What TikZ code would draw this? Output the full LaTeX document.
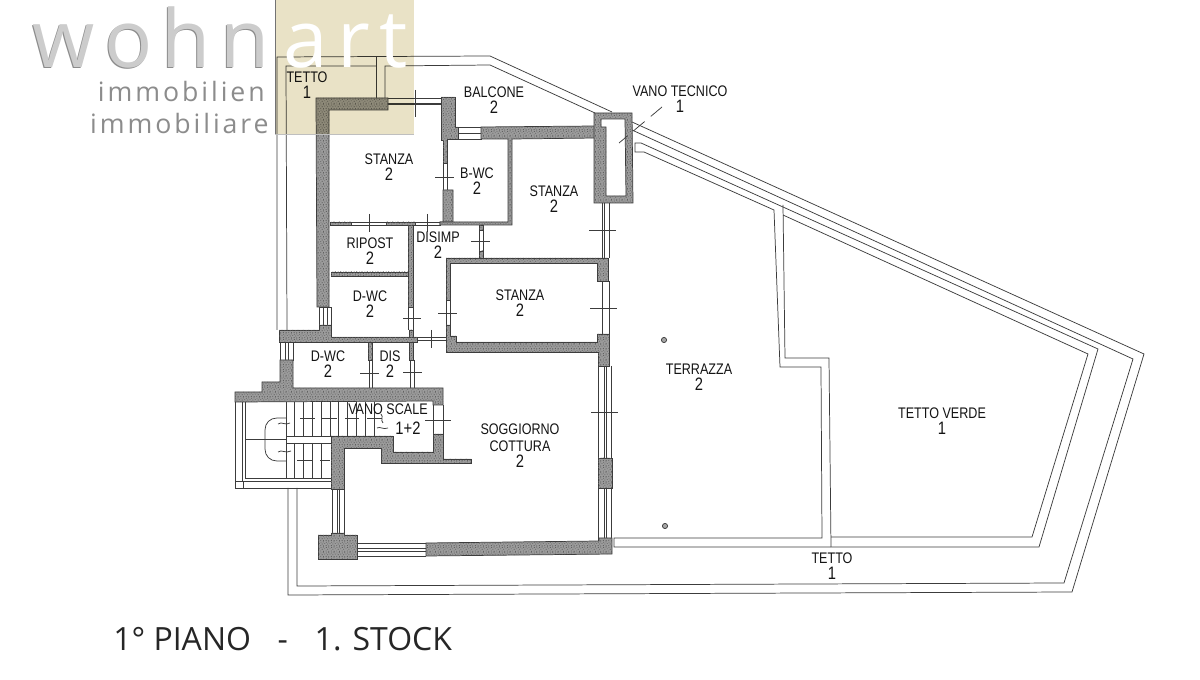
\documentclass[tikz,border=0pt]{standalone}
\usepackage{fontspec}
\usetikzlibrary{patterns}
\setmainfont{Liberation Sans}
\newfontfamily\planfont[FakeStretch=0.82]{Liberation Sans}
\newfontfamily\logofont[LetterSpace=12]{Open Sans}
\newfontfamily\artfont[LetterSpace=12]{Open Sans}
\newfontfamily\subfont[LetterSpace=11]{Open Sans}
\newfontfamily\capfont{Open Sans}
\newcommand{\dg}{\fontsize{13.5}{12.4}\selectfont}
\definecolor{wallgray}{HTML}{9C9C9C}
\definecolor{ink}{HTML}{3C3C3C}
\definecolor{logotan}{HTML}{E9E2C6}
\pgfdeclarepatternformonly{speckle}{\pgfqpoint{-0.1pt}{-0.1pt}}{\pgfqpoint{4.1pt}{4.1pt}}{\pgfqpoint{4pt}{4pt}}{%
 \pgfpathrectangle{\pgfqpoint{0.2pt}{0.4pt}}{\pgfqpoint{0.7pt}{0.7pt}}%
 \pgfpathrectangle{\pgfqpoint{2.3pt}{0.1pt}}{\pgfqpoint{0.6pt}{0.8pt}}%
 \pgfpathrectangle{\pgfqpoint{1.3pt}{1.7pt}}{\pgfqpoint{0.8pt}{0.6pt}}%
 \pgfpathrectangle{\pgfqpoint{3.2pt}{2.1pt}}{\pgfqpoint{0.6pt}{0.6pt}}%
 \pgfpathrectangle{\pgfqpoint{0.4pt}{3.0pt}}{\pgfqpoint{0.7pt}{0.6pt}}%
 \pgfpathrectangle{\pgfqpoint{2.2pt}{3.2pt}}{\pgfqpoint{0.6pt}{0.7pt}}%
 \pgfusepath{fill}}
\tikzset{
 plan/.style={draw=ink,line width=0.55pt,line join=miter},
 wallfill/.style={fill=wallgray,draw=ink,line width=0.55pt,postaction={pattern=speckle,pattern color=black!62}},
 lab/.style={font=\planfont\fontsize{11.5}{12.4}\selectfont,align=center,inner sep=0pt,text=black!92},
}
\begin{document}
\begin{tikzpicture}[x=0.75pt,y=-0.75pt]
\useasboundingbox (0,0) rectangle (1200,680);
\fill[white] (0,0) rectangle (1200,680);
% ---- outer roof lines
\draw[plan] (277,330)--(277,57)--(490,56)--(612,112);
\draw[plan] (632,122)--(1144,354)--(1072,592)--(288,595)--(288,488);
\draw[plan] (287,330)--(286,66)--(376,66);
\draw[plan] (376,57)--(376,98);
\draw[plan] (385,98)--(385,66)--(490,65)--(595,113);
\draw[plan] (632,130)--(1133,359)--(1064,583)--(297,586)--(297,488);
% ---- terrace
\draw[plan] (1098,349)--(1039,547)--(614,547)--(614,538)--(822,538)--(821,367)--(780,367)--(774,210)--(644,152)--(635,152)--(635,143)--(641,143)--cycle;
\draw[plan] (783,205)--(785,358)--(829,358)--(831,547);
\draw[plan] (783,215)--(1088,354)--(1032,537)--(831,537);
\draw[plan,fill=black!35] (664,340) circle (2.6);
\draw[plan,fill=black!35] (665,526) circle (2.6);
% ---- windows and doors
\draw[plan] (388,98)--(441,98);
\draw[plan,line width=1.2pt] (388,104)--(441,104);
\draw[plan] (458,127) rectangle (481,139) (458,133)--(481,133);
\draw[plan] (443,163)--(443,190) (447,163)--(447,190);
\draw[plan] (351,222) rectangle (386,225);
\draw[plan] (415,222) rectangle (440,225);
\draw[plan] (319,307) rectangle (331,325) (323,307)--(323,325) (327,307)--(327,325);
\draw[plan] (280,342) rectangle (293,360) (285,342)--(285,360) (288,342)--(288,360);
\draw[plan] (408,307)--(408,330) (413,307)--(413,330);
\draw[plan] (369,360)--(369,388) (372,360)--(372,388);
\draw[plan] (410,360)--(410,388) (414,360)--(414,388);
\draw[plan] (413,337)--(446,337) (413,340)--(446,340);
\draw[plan] (479,225)--(479,257) (483,225)--(483,257);
\draw[plan] (446,300)--(446,325) (450,300)--(450,325);
\draw[plan] (602,203)--(602,258) (604,203)--(604,258) (609,203)--(609,258);
\draw[plan] (602,281)--(602,334) (609,281)--(609,334);
\draw[plan] (598,366)--(598,458) (604,366)--(604,458) (606,366)--(606,458) (611,366)--(611,458);
\draw[plan] (598,488)--(598,541) (604,488)--(604,541) (606,488)--(606,541) (611,488)--(611,538);
\draw[plan] (433,405)--(433,434) (443,405)--(443,434);
\draw[plan] (332,489)--(332,533) (337,489)--(337,533) (339,489)--(339,533) (344,489)--(344,533);
\draw[plan] (357,543)--(426,543) (357,548)--(426,548) (357,551)--(426,551) (357,556)--(426,556);
% ---- walls
\draw[wallfill] (316,98)--(388,98)--(388,110)--(329,110)--(329,307)--(317,307)--cycle;
\draw[wallfill] (441,97)--(455,97)--(455,127)--(458,127)--(458,139)--(447,139)--(447,163)--(443,163)--(443,140)--(441,140)--cycle;
\draw[wallfill] (443,190)--(453,190)--(453,222)--(440,222)--(440,225)--(443,222)--cycle;
\draw[wallfill] (481,127)--(596,126)--(596,138)--(512,139)--(512,225)--(440,225)--(440,222)--(508,222)--(508,139)--(481,139)--cycle;
\draw[wallfill] (330,222) rectangle (351,225);
\draw[wallfill] (386,222) rectangle (415,225);
\draw[wallfill] (408,225) rectangle (413,307);
\draw[wallfill] (331,272) rectangle (408,276);
\draw[wallfill] (409,330) rectangle (413,360);
\draw[wallfill] (368,342) rectangle (372,360);
\draw[wallfill] (279,330)--(319,330)--(319,325)--(331,325)--(331,337)--(417,337)--(417,342)--(279,342)--cycle;
\draw[wallfill] (280,360)--(293,360)--(293,388)--(443,388)--(443,405)--(433,405)--(433,401)--(235,402)--(235,392)--(262,392)--(262,382)--(280,382)--cycle;
\draw[wallfill] (433,434)--(433,452)--(393,452)--(393,436)--(331,436)--(331,489)--(344,489)--(344,448)--(381,448)--(381,463)--(471,463)--(471,459)--(443,459)--(443,434)--cycle;
\draw[wallfill] (318,535)--(331,535)--(331,533)--(344,533)--(344,535)--(357,535)--(357,559)--(318,559)--cycle;
\draw[wallfill] (426,543)--(599,541)--(599,538)--(612,538)--(612,554)--(426,556)--cycle;
\draw[wallfill] (598,458) rectangle (612,488);
\draw[wallfill] (446,258)--(608,258)--(608,281)--(597,281)--(597,263)--(450,263)--(450,300)--(446,300)--cycle;
\draw[wallfill] (446,325)--(450,325)--(450,336)--(456,336)--(456,342)--(597,342)--(597,334)--(609,334)--(609,366)--(598,366)--(598,352)--(446,352)--cycle;
\draw[wallfill] (479,225) rectangle (483,230);
\draw[wallfill] (479,251) rectangle (483,258);
\draw[wallfill,even odd rule] (594,113)--(632,113)--(633,203)--(594,203)--cycle (601,119)--(625,119)--(626,196)--(606,196)--(606,127)--(601,127)--cycle;
% ---- stairs
\draw[plan] (235,402)--(235,488)--(243,488)--(243,481)--(236,481) (242,402)--(242,481) (245,402)--(245,478)--(331,478) (243,481)--(331,481) (243,488)--(331,488);
\draw[plan] (286,436) rectangle (331,443);
\foreach \xx in {286,294,303,312,321,330,338,347,356,365,374}{\draw[plan] (\xx,402)--(\xx,436);}
\foreach \xx in {286,294,303,312,321}{\draw[plan] (\xx,443)--(\xx,478);}
\draw[plan] (245,439)--(286,439);
\draw[plan] (286,418)--(277,418) .. controls (270,418) and (265,423) .. (265,430)--(265,449) .. controls (265,456) and (270,461) .. (277,461)--(286,461);
\draw[plan] (300,418)--(315,418) (322,418)--(337,418) (345,418)--(359,418) (367,418)--(382,418);
\draw[plan] (297,460)--(312,460) (320,460)--(330,460);
\draw[plan] (278,424) .. controls (282,421) and (285,426) .. (290,423);
\draw[plan] (278,452) .. controls (282,449) and (285,454) .. (291,451);
\draw[plan] (377,428) .. controls (380,426) and (383,430) .. (388,428);
\draw[plan] (381,414) .. controls (384,417) and (380,420) .. (383,423);
% ---- door dimension crosses
\draw[plan] (415,90)--(415,117);
\draw[plan] (435,177)--(454,177);
\draw[plan] (369,214)--(369,232);
\draw[plan] (427,214)--(427,232);
\draw[plan] (403,318)--(421,318);
\draw[plan] (438,313)--(457,313);
\draw[plan] (431,330)--(431,348);
\draw[plan] (360,373)--(379,373);
\draw[plan] (403,372)--(422,372);
\draw[plan] (471,241)--(490,241);
\draw[plan] (589,230)--(616,230);
\draw[plan] (590,308)--(617,308);
\draw[plan] (591,412)--(618,412);
\draw[plan] (425,420)--(451,420);
% leader
\draw[plan,dash pattern=on 11pt off 6pt] (662,107)--(619,143);
% ---- labels
\node[lab] (tetA) at (307,85) {TETTO\\\dg 1};
\node[lab] (balc) at (494,100) {BALCONE\\\dg 2};
\node[lab] (vano) at (680,99) {VANO TECNICO\\\dg 1};
\node[lab] (st1) at (389,167) {STANZA\\\dg 2};
\node[lab] (bwc) at (477,181) {B-WC\\\dg 2};
\node[lab] (st2) at (554,199) {STANZA\\\dg 2};
\node[lab] (rip) at (370,251) {RIPOST\\\dg 2};
\node[lab] (dis) at (438,245) {DISIMP\\\dg 2};
\node[lab] (dwc1) at (370,304) {D-WC\\\dg 2};
\node[lab] (st3) at (520,303) {STANZA\\\dg 2};
\node[lab] (dwc2) at (328,364) {D-WC\\\dg 2};
\node[lab] (dis2) at (390,364) {DIS\\\dg 2};
\node[lab] (scale) at (388,409) {VANO SCALE};
\node[lab] (scaleb) at (408,428) {\dg 1+2};
\node[lab] (sog) at (520,446) {SOGGIORNO\\COTTURA\\\dg 2};
\node[lab] (ter) at (699,377) {TERRAZZA\\\dg 2};
\node[lab] (verde) at (942,421) {TETTO VERDE\\\dg 1};
\node[lab] (tetB) at (832,566) {TETTO\\\dg 1};
% ---- logo
\fill[logotan,blend mode=multiply] (275,0) rectangle (414,134);
\draw[black!55,line width=0.6pt] (275,0)--(275,134);
\draw[black!25,line width=0.6pt] (275,134)--(414,134);
\node[anchor=base west,inner sep=0pt,font=\logofont\fontsize{60}{60}\selectfont,text=black!45] (wsh) at (31,69) {wohn};
\node[anchor=base west,inner sep=0pt,font=\logofont\fontsize{60}{60}\selectfont,text=black!20] (w) at (32,68) {wohn};
\node[anchor=base west,inner sep=0pt,font=\artfont\fontsize{60}{60}\selectfont,text=white] (art) at (283,68) {art};
\node[anchor=base east,inner sep=0pt,font=\subfont\fontsize{20}{20}\selectfont,text=black!45] (imb1) at (265,102) {immobilien};
\node[anchor=base east,inner sep=0pt,font=\subfont\fontsize{20}{20}\selectfont,text=black!45] (imb2) at (269,134) {immobiliare};
\node[anchor=base west,inner sep=0pt,font=\capfont\fontsize{24}{24}\selectfont,text=black!85] (cap) at (113,650) {1° PIANO\hspace{20pt}-\hspace{20pt}1. STOCK};
\end{tikzpicture}
\end{document}
